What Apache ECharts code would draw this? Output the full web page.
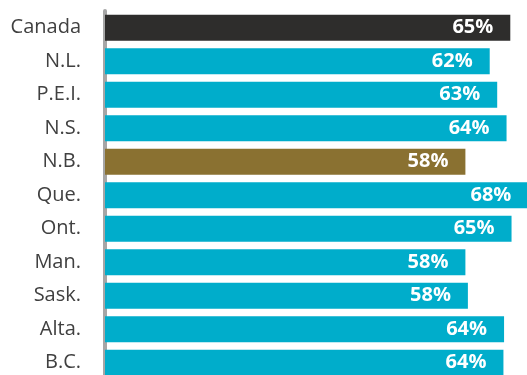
<!DOCTYPE html>
<html><head><meta charset="utf-8">
<script src="https://cdn.jsdelivr.net/npm/echarts@6/dist/echarts.min.js"></script>
<style>html,body{margin:0;padding:0;background:#fff}#c{width:527px;height:375px}</style>
</head><body><div id="c"></div>
<script>
const categories = ["Canada","N.L.","P.E.I.","N.S.","N.B.","Que.","Ont.","Man.","Sask.","Alta.","B.C."];
const values = [65, 61.7, 62.9, 64.4, 57.8, 67.9, 65.2, 57.8, 58.2, 64.0, 63.9];
const labels = ["65%","62%","63%","64%","58%","68%","65%","58%","58%","64%","64%"];
const colorDefault = "#00ADCB";
const colorCanada = "#2E2D2C";
const colorNB = "#8A7131";

const chart = echarts.init(document.getElementById('c'));
chart.setOption({
  animation: false,
  grid: {left: 105, top: 11, width: 424, height: 368.5, containLabel: false, outerBoundsMode: 'none'},
  xAxis: {type: 'value', min: 0, max: 68, show: false},
  yAxis: {
    type: 'category', data: categories, inverse: true, offset: 3,
    axisLine: {show: true, lineStyle: {color: '#A6A6A6', width: 4}},
    axisTick: {show: false},
    axisLabel: {color: '#404040', fontSize: 20, fontFamily: 'Open Sans', margin: 21}
  },
  series: [{
    type: 'bar', barCategoryGap: '22%',
    data: values.map((v, i) => ({
      value: v,
      itemStyle: {color: i === 0 ? colorCanada : (categories[i] === 'N.B.' ? colorNB : colorDefault)}
    })),
    label: {
      show: true, position: 'insideRight', distance: 17,
      color: '#fff', fontWeight: 'bold', fontSize: 20, fontFamily: 'Open Sans',
      formatter: p => labels[p.dataIndex]
    }
  }]
});
</script></body></html>
